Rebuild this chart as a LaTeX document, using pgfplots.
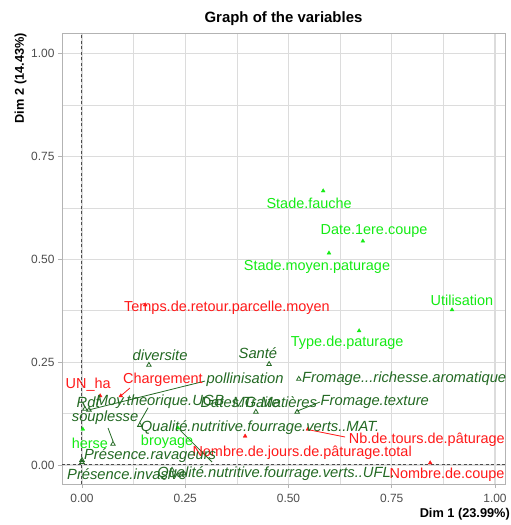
\documentclass[border=0pt]{standalone}
\usepackage{fontspec}
\setmainfont{Liberation Sans}
\usepackage{pgfplots}
\usepackage{pgfplotstable}
\pgfplotsset{compat=1.18}

\definecolor{actred}{RGB}{255,25,25}
\definecolor{actgreen}{RGB}{20,235,20}
\definecolor{supgreen}{RGB}{35,105,35}
\definecolor{gridc}{RGB}{220,220,220}
\definecolor{borderc}{RGB}{179,179,179}
\definecolor{tickc}{RGB}{77,77,77}

% markers (coordinates on Dim 1 / Dim 2)
\pgfplotstableread{
x y
0.044 0.168
0.094 0.168
0.153 0.389
0.395 0.070
0.547 0.087
0.843 0.005
}\redpts
\pgfplotstableread{
x y
0.584 0.666
0.680 0.544
0.598 0.515
0.896 0.377
0.671 0.326
0.002 0.087
0.232 0.090
}\greenpts
\pgfplotstableread{
x y
0.162 0.243
0.453 0.245
0.017 0.134
0.525 0.209
0.521 0.129
0.421 0.129
0.007 0.136
0.140 0.097
0.075 0.051
0.000 0.012
0.000 0.007
0.218 -0.012
}\suppts

% label positions (repelled)
\pgfplotstableread{
x y label
0.015 0.194 UN\_ha
0.196 0.207 Chargement
0.351 0.382 Temps.de.retour.parcelle.moyen
0.533 0.029 Nombre.de.jours.de.pâturage.total
0.835 0.061 Nb.de.tours.de.pâturage
0.884 -0.024 Nombre.de.coupe
}\redlab
\pgfplotstableread{
x y label
0.550 0.637 Stade.fauche
0.707 0.569 Date.1ere.coupe
0.569 0.481 Stade.moyen.paturage
0.920 0.401 Utilisation
0.642 0.296 Type.de.paturage
0.019 0.053 herse
0.206 0.056 broyage
}\greenlab
\pgfplotstableread{
x y label
0.189 0.267 diversite
0.426 0.272 Santé
0.395 0.207 pollinisation
0.780 0.209 Fromage...richesse.aromatique
0.709 0.153 Fromage.texture
0.015 0.153 Rdt
0.189 0.153 Moy.theorique.UGB
0.383 0.153 Dates.Traite
0.467 0.153 MG.Matières
0.056 0.114 souplesse
0.431 0.092 Qualité.nutritive.fourrage.verts..MAT.
0.165 0.022 Présence.ravageurs
0.109 -0.022 Présence.invasive
0.470 -0.022 Qualité.nutritive.fourrage.verts..UFL.
}\suplab

\begin{document}
\begin{tikzpicture}
\useasboundingbox (-62bp,-41bp) rectangle (449bp,484bp);
\begin{axis}[
    at={(0,0)}, anchor=south west,
    scale only axis,
    width=443bp, height=451bp,
    xmin=-0.0484, xmax=1.0242,
    ymin=-0.0462, ymax=1.0498,
    xtick={0,0.25,0.5,0.75,1},
    ytick={0,0.25,0.5,0.75,1},
    xticklabels={0.00,0.25,0.50,0.75,1.00},
    yticklabels={0.00,0.25,0.50,0.75,1.00},
    minor tick num=1,
    grid=both,
    major grid style={gridc, line width=1.1bp},
    minor grid style={gridc, line width=0.6bp},
    axis line style={borderc, line width=0.9bp},
    tick align=outside,
    major tick length=4bp,
    minor tick length=0pt,
    tick style={borderc, line width=0.8bp},
    xtick pos=bottom, ytick pos=left,
    tick label style={font=\fontsize{12}{14}\selectfont, text=tickc},
    xticklabel style={yshift=-3bp},
    /pgf/number format/assume math mode=true,
    title={Graph of the variables},
    title style={font=\bfseries\fontsize{15}{17}\selectfont, at={(0.5,1)}, anchor=base, yshift=5bp},
    xlabel={Dim 1 (23.99\%)},
    ylabel={Dim 2 (14.43\%)},
    xlabel style={font=\bfseries\fontsize{12.8}{14}\selectfont, inner sep=0pt, at={(rel axis cs:1,0)}, anchor=base east, yshift=-33bp, xshift=5bp},
    ylabel style={font=\bfseries\fontsize{12.8}{14}\selectfont, inner sep=0pt, at={(rel axis cs:0,1)}, anchor=base east, yshift=38bp},
    clip=false,
    every node near coord/.append style={anchor=center, inner sep=0pt, font=\fontsize{14.5}{16}\selectfont},
]
% reference lines
\addplot[tickc, line width=1bp, dash pattern=on 3bp off 2.5bp] coordinates {(0,-0.0462) (0,1.0498)};
\addplot[tickc, line width=1bp, dash pattern=on 3bp off 2.5bp] coordinates {(-0.0484,0) (1.0242,0)};

% connector segments
\addplot[supgreen, line width=0.8bp] coordinates {(0.298,0.204) (0.017,0.134)};
\addplot[supgreen, line width=0.8bp] coordinates {(0.160,0.139) (0.140,0.104)};
\addplot[supgreen, line width=0.8bp] coordinates {(0.063,0.090) (0.075,0.058)};
\addplot[supgreen, line width=0.8bp] coordinates {(0.576,0.153) (0.521,0.131)};
\addplot[supgreen, line width=0.8bp] coordinates {(0.237,0.085) (0.315,0.007)};
\addplot[actred, line width=0.8bp] coordinates {(0.116,0.187) (0.094,0.168)};
\addplot[actred, line width=0.8bp] coordinates {(0.637,0.068) (0.552,0.085)};

% points
\addplot[only marks, mark=triangle*, mark size=2.2bp, color=actred] table {\redpts};
\addplot[only marks, mark=triangle*, mark size=2.2bp, color=actgreen] table {\greenpts};
\addplot[only marks, mark=triangle, mark size=2.6bp, color=supgreen, mark options={line width=0.8bp}] table {\suppts};

% labels
\addplot[draw=none, nodes near coords, point meta=explicit symbolic,
    every node near coord/.append style={text=actred}] table[meta=label] {\redlab};
\addplot[draw=none, nodes near coords, point meta=explicit symbolic,
    every node near coord/.append style={text=actgreen}] table[meta=label] {\greenlab};
\addplot[draw=none, nodes near coords, point meta=explicit symbolic,
    every node near coord/.append style={text=supgreen, font=\itshape\fontsize{14.8}{16}\selectfont}] table[meta=label] {\suplab};
\end{axis}
\end{tikzpicture}
\end{document}
